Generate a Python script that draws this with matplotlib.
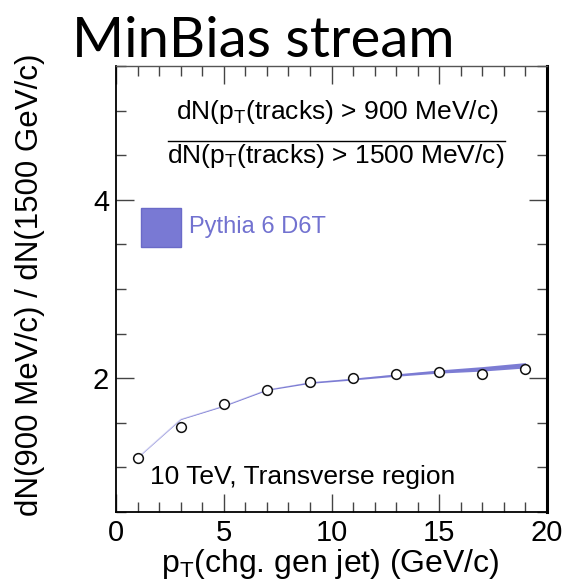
import matplotlib
matplotlib.use("Agg")
import matplotlib.pyplot as plt
from matplotlib.patches import Rectangle
from matplotlib.lines import Line2D
from matplotlib.ticker import MultipleLocator

plt.rcParams['font.family'] = ['Liberation Sans', 'DejaVu Sans']
plt.rcParams['mathtext.fontset'] = 'custom'
plt.rcParams['mathtext.rm'] = 'Liberation Sans'
plt.rcParams['mathtext.it'] = 'Liberation Sans'

# ---- data ----
pt_jet = [1, 3, 5, 7, 9, 11, 13, 15, 17, 19]
ratio_data = [1.11, 1.45, 1.71, 1.87, 1.96, 2.00, 2.045, 2.07, 2.05, 2.10]
pythia_center = [1.11, 1.54, 1.69, 1.87, 1.95, 1.99, 2.035, 2.075, 2.105, 2.145]
pythia_lower = [1.107, 1.536, 1.685, 1.864, 1.942, 1.980, 2.022, 2.057, 2.080, 2.115]
pythia_upper = [1.113, 1.544, 1.695, 1.876, 1.958, 2.000, 2.048, 2.093, 2.130, 2.175]
x_range = [0, 20]
y_range = [0.5, 5.5]
x_ticks = [0, 5, 10, 15, 20]
y_ticks = [2, 4]

W, H = 564, 585
fig = plt.figure(figsize=(W / 100, H / 100), dpi=100)
L, R, T, B = 116, 547, 66, 512
ax = fig.add_axes([L / W, (H - B) / H, (R - L) / W, (B - T) / H])

def axf(px, py):
    return ((px - L) / (R - L), (B - py) / (B - T))

band_col = '#7676d2'
ax.fill_between(pt_jet, pythia_lower, pythia_upper, color=band_col, lw=0, alpha=0.95, zorder=2)
ax.plot(pt_jet, pythia_center, color=band_col, lw=0.7, alpha=0.3, zorder=2)
ax.plot(pt_jet, ratio_data, ls='none', marker='o', ms=7, mfc='white', mec='#111111', mew=1.1, zorder=3)

ax.set_xlim(*x_range)
ax.set_ylim(*y_range)
ax.set_xticks(x_ticks)
ax.set_yticks(y_ticks)
ax.xaxis.set_minor_locator(MultipleLocator(1))
ax.yaxis.set_minor_locator(MultipleLocator(0.5))
ax.tick_params(which='both', direction='in', top=True, right=True, colors='#444444',
               labelcolor='black', labelsize=21)
ax.tick_params(which='major', length=13, width=1.0)
ax.tick_params(which='minor', length=7, width=1.0)
ax.tick_params(axis='x', which='major', pad=5)
ax.tick_params(axis='y', which='major', pad=5)

for s in ['left', 'bottom']:
    ax.spines[s].set_color('black')
    ax.spines[s].set_linewidth(1.3)
ax.spines['right'].set_color('black')
ax.spines['right'].set_linewidth(2.2)
ax.spines['top'].set_color('#555555')
ax.spines['top'].set_linewidth(1.0)

# fraction annotation
x0, y0 = axf(337, 112)
ax.text(x0, y0, r'dN(p$_\mathregular{T}$(tracks) > 900 MeV/c)', transform=ax.transAxes,
        ha='center', va='center', fontsize=19)
x1, yl = axf(168, 140.7)
x2, _ = axf(505, 140.7)
ax.add_line(Line2D([x1, x2], [yl, yl], transform=ax.transAxes, color='black', lw=1.0))
x0, y0 = axf(336, 156)
ax.text(x0, y0, r'dN(p$_\mathregular{T}$(tracks) > 1500 MeV/c)', transform=ax.transAxes,
        ha='center', va='center', fontsize=19)

# legend
rx, ry = axf(141, 247)
rw = 40 / (R - L)
rh = 39 / (B - T)
ax.add_patch(Rectangle((rx, ry), rw, rh, transform=ax.transAxes, facecolor='#7979d4',
                       edgecolor='#6a6ac8', lw=1.0))
tx, ty = axf(189, 227)
ax.text(tx, ty, 'Pythia 6 D6T', transform=ax.transAxes, ha='left', va='center',
        fontsize=17, color='#7272d0')

tx, ty = axf(150, 484)
ax.text(tx, ty, '10 TeV, Transverse region', transform=ax.transAxes, ha='left',
        va='baseline', fontsize=19)

fig.text((163 + 498) / 2 / W, (H - 572) / H, r'p$_\mathregular{T}$(chg. gen jet) (GeV/c)',
         fontsize=23, ha='center', va='baseline')
fig.text(30 / W, (H - 285) / H, 'dN(900 MeV/c) / dN(1500 GeV/c)', rotation=90,
         ha='center', va='center', fontsize=22.5)

fig.text(72 / W, (H - 57) / H, 'MinBias stream', fontsize=40.5, family=['Lato', 'DejaVu Sans'],
         ha='left', va='baseline')

fig.savefig('out.png', dpi=100)
